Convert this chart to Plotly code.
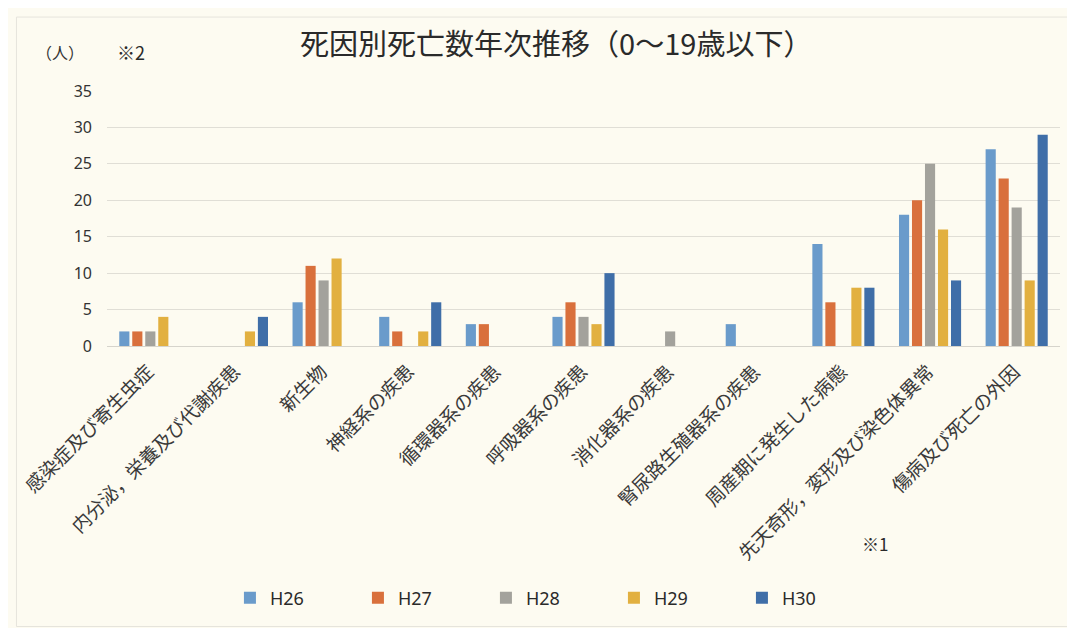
import plotly.graph_objects as go

categories = [
    "感染症及び寄生虫症",
    "内分泌，栄養及び代謝疾患",
    "新生物",
    "神経系の疾患",
    "循環器系の疾患",
    "呼吸器系の疾患",
    "消化器系の疾患",
    "腎尿路生殖器系の疾患",
    "周産期に発生した病態",
    "先天奇形，変形及び染色体異常",
    "傷病及び死亡の外因",
]

h26 = [2, 0, 6, 4, 3, 4, 0, 3, 14, 18, 27]
h27 = [2, 0, 11, 2, 3, 6, 0, 0, 6, 20, 23]
h28 = [2, 0, 9, 0, 0, 4, 2, 0, 0, 25, 19]
h29 = [4, 2, 12, 2, 0, 3, 0, 0, 8, 16, 9]
h30 = [0, 4, 0, 6, 0, 10, 0, 0, 8, 9, 29]

series = [
    ("H26", h26, "#6a9bcb"),
    ("H27", h27, "#d9703c"),
    ("H28", h28, "#a3a29c"),
    ("H29", h29, "#e2b040"),
    ("H30", h30, "#3f6ea8"),
]

FONT = "Noto Sans CJK JP"
NUMFONT = "Noto Sans"
BG = "#fdfbf1"

fig = go.Figure()
for name, vals, col in series:
    fig.add_trace(go.Bar(x=categories, y=vals, name=name, marker=dict(color=col, line=dict(width=0))))

# the page body adds an 8px offset, margins are set with that in mind
fig.update_layout(
    width=1075, height=628,
    margin=dict(l=99, r=23, t=83, b=290, autoexpand=False),
    paper_bgcolor=BG, plot_bgcolor=BG,
    font=dict(family=FONT, color="#333333"),
    barmode="group", bargap=0.25, bargroupgap=0.22,
    title=dict(text="死因別死亡数年次推移（0～19歳以下）", x=0.51, xref="container", xanchor="center",
               y=1 - 37 / 628, yref="container", yanchor="middle",
               font=dict(size=29, color="#2a2a2a", family=FONT)),
    legend=dict(orientation="h", x=0.129, xanchor="left",
                y=-0.988, yanchor="middle", font=dict(size=18, color="#2a2a2a", family=NUMFONT),
                entrywidth=83, entrywidthmode="pixels", traceorder="normal",
                bgcolor="rgba(0,0,0,0)"),
    showlegend=True,
)

fig.update_xaxes(range=[-0.5, len(categories) - 0.5], showticklabels=False, showgrid=False,
                 showline=True, linecolor="#d6d4cc", ticks="", automargin=False)
fig.update_yaxes(range=[0, 35], dtick=5, tickfont=dict(size=16, color="#333333", family=NUMFONT),
                 gridcolor="#e0ded6", gridwidth=1, zeroline=False, ticks="", ticklabelstandoff=14,
                 automargin=False)

# slanted category labels
for cat in categories:
    fig.add_annotation(text=cat, x=cat, xref="x", y=0, yref="paper", yshift=-9, xshift=11,
                       xanchor="right", yanchor="top", textangle=-45, showarrow=False,
                       font=dict(size=19, color="#3a3a3a", family=FONT))

fig.add_annotation(text="（人）", x=-0.049, y=1.153, xref="paper", yref="paper",
                   xanchor="center", yanchor="middle",
                   showarrow=False, font=dict(size=16, color="#333333"))
fig.add_annotation(text="※2", x=0.025, y=1.153, xref="paper", yref="paper",
                   xanchor="center", yanchor="middle",
                   showarrow=False, font=dict(size=18, color="#2a2a2a"))
fig.add_annotation(text="※1", x=0.806, y=-0.773, xref="paper", yref="paper",
                   xanchor="center", yanchor="middle",
                   showarrow=False, font=dict(size=17, color="#2a2a2a"))

fig.add_shape(type="rect", xref="paper", yref="paper", x0=-0.095, x1=1.02, y0=-1.1, y1=1.29,
              line=dict(color="#e6e4dc", width=1))

fig.write_html("out.html")
